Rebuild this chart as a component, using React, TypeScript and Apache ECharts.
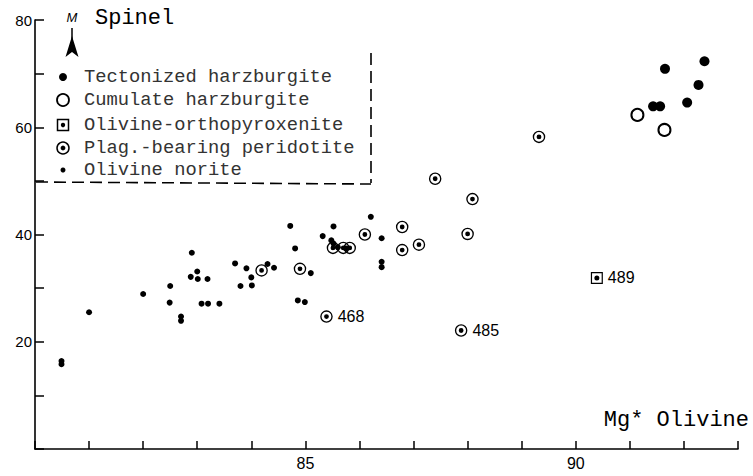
import React, { useEffect, useRef } from "react";
import * as echarts from "echarts";

// Mg* olivine (x) vs Mg* spinel (y)
const tectonizedHarzburgite: [number, number][] = [
  [91.65, 70.9], [92.38, 72.3], [92.27, 67.9], [92.06, 64.6], [91.43, 63.9], [91.56, 63.9],
];
const cumulateHarzburgite: [number, number][] = [
  [91.14, 62.3], [91.64, 59.5],
];
// [x, y, sample id]
const olivineOrthopyroxenite: [number, number, string][] = [
  [90.39, 31.9, "489"],
];
const plagBearingPeridotite: [number, number, string][] = [
  [84.19, 33.3, ""], [84.9, 33.6, ""], [85.39, 24.7, "468"], [85.51, 37.5, ""],
  [85.7, 37.5, ""], [85.82, 37.5, ""], [86.1, 40.0, ""], [86.79, 41.4, ""],
  [86.79, 37.1, ""], [87.1, 38.1, ""], [87.4, 50.4, ""], [88.09, 46.6, ""],
  [88.0, 40.1, ""], [87.88, 22.1, "485"], [89.32, 58.2, ""],
];
const olivineNorite: [number, number][] = [
  [80.49, 16.4], [80.49, 15.8], [81.0, 25.5], [82.0, 28.9], [82.5, 30.4], [82.49, 27.3],
  [82.7, 24.7], [82.7, 23.9], [82.9, 36.6], [82.88, 32.1], [83.0, 33.1], [83.01, 31.7],
  [83.08, 27.1], [83.2, 27.1], [83.19, 31.7], [83.41, 27.1], [83.7, 34.6], [83.8, 30.4],
  [83.91, 33.7], [84.0, 32.0], [84.01, 30.5], [84.3, 34.5], [84.42, 33.8], [84.72, 41.6],
  [84.81, 37.4], [84.86, 27.7], [84.99, 27.4], [85.1, 32.8], [85.32, 39.7], [85.52, 41.5],
  [85.48, 38.9], [85.52, 38.3], [85.6, 37.6], [85.75, 37.4], [86.21, 43.3], [86.41, 39.3],
  [86.41, 34.9], [86.41, 33.9],
];

const xLabels = [85, 90];
const yLabels = [20, 40, 60, 80];
const legendNames = [
  "Tectonized harzburgite",
  "Cumulate harzburgite",
  "Olivine-orthopyroxenite",
  "Plag.-bearing peridotite",
  "Olivine norite",
];

const RING =
  "path://M0,13A13,13 0 1,1 26,13A13,13 0 1,1 0,13Z M2.8,13A10.2,10.2 0 1,0 23.2,13A10.2,10.2 0 1,0 2.8,13Z M8,13A5,5 0 1,1 18,13A5,5 0 1,1 8,13Z";
const SQUARE =
  "path://M0,0L24,0L24,24L0,24Z M2.4,2.4L2.4,21.6L21.6,21.6L21.6,2.4Z M7,12A5,5 0 1,1 17,12A5,5 0 1,1 7,12Z";

const MONO = '"Liberation Mono", "DejaVu Sans Mono", monospace';
const SANS = '"Liberation Sans", Arial, sans-serif';

export default function App() {
  const ref = useRef<HTMLDivElement>(null);

  useEffect(() => {
    if (!ref.current) return;
    const chart = echarts.init(ref.current, undefined, { renderer: "svg" });

    const labelStyle = {
      position: "right" as const,
      distance: 5,
      fontSize: 16,
      fontFamily: SANS,
      color: "#000",
    };
    const withIds = (arr: [number, number, string][]) =>
      arr.map(([x, y, id]) => ({
        value: [x, y],
        label: { show: !!id, formatter: id, ...labelStyle },
      }));

    const rowsY = [77, 100, 125, 148, 170];
    const mx = 63;
    const legendGraphics: any[] = [
      { type: "circle", shape: { cx: mx, cy: rowsY[0], r: 4 }, style: { fill: "#000" } },
      { type: "circle", shape: { cx: mx, cy: rowsY[1], r: 6 }, style: { fill: "#fff", stroke: "#000", lineWidth: 1.8 } },
      { type: "rect", shape: { x: mx - 5.5, y: rowsY[2] - 5.5, width: 11, height: 11 }, style: { fill: "#fff", stroke: "#000", lineWidth: 1.5 } },
      { type: "circle", shape: { cx: mx, cy: rowsY[2], r: 2.2 }, style: { fill: "#000" } },
      { type: "circle", shape: { cx: mx, cy: rowsY[3], r: 6 }, style: { fill: "#fff", stroke: "#000", lineWidth: 1.5 } },
      { type: "circle", shape: { cx: mx, cy: rowsY[3], r: 2.4 }, style: { fill: "#000" } },
      { type: "circle", shape: { cx: mx, cy: rowsY[4], r: 2.5 }, style: { fill: "#000" } },
      ...legendNames.map((name, i) => ({
        type: "text",
        style: {
          text: name,
          x: 84,
          y: rowsY[i],
          fill: "#333",
          fontSize: 18.8,
          fontFamily: MONO,
          verticalAlign: "middle",
        },
      })),
      {
        type: "line",
        shape: { x1: 371, y1: 53, x2: 371, y2: 183 },
        style: { stroke: "#000", lineWidth: 1.6, lineDash: [12, 6] },
      },
      {
        type: "line",
        shape: { x1: 36, y1: 182, x2: 371, y2: 184 },
        style: { stroke: "#000", lineWidth: 1.6, lineDash: [12, 6] },
      },
      // axis title (y)
      { type: "line", shape: { x1: 72, y1: 28, x2: 72, y2: 44 }, style: { stroke: "#000", lineWidth: 1.5 } },
      {
        type: "polygon",
        shape: { points: [[72, 36], [78.5, 57], [72, 52], [65.5, 57]] },
        style: { fill: "#000" },
      },
      {
        type: "text",
        style: { text: "M", x: 72, y: 17, fill: "#000", fontSize: 13, fontStyle: "italic", fontFamily: SANS, align: "center", verticalAlign: "middle" },
      },
      {
        type: "text",
        style: { text: "Spinel", x: 95, y: 18, fill: "#000", fontSize: 22, fontFamily: MONO, verticalAlign: "middle" },
      },
      // axis title (x)
      {
        type: "text",
        style: { text: "Mg* Olivine", x: 749, y: 420, fill: "#000", fontSize: 22, fontFamily: MONO, align: "right", verticalAlign: "middle" },
      },
    ];

    chart.setOption({
      animation: false,
      backgroundColor: "#fff",
      grid: { left: 35, right: 15, top: 20, bottom: 27, containLabel: false },
      xAxis: {
        type: "value",
        min: 80,
        max: 93,
        interval: 1,
        splitLine: { show: false },
        axisLine: { show: true, lineStyle: { color: "#000", width: 1.6 } },
        axisTick: { show: true, inside: true, length: 8, lineStyle: { color: "#000", width: 1.5 } },
        axisLabel: {
          margin: 6,
          fontSize: 16,
          fontFamily: SANS,
          color: "#000",
          formatter: (v: number) => (xLabels.includes(v) ? String(v) : ""),
        },
      },
      yAxis: {
        type: "value",
        min: 0,
        max: 80,
        interval: 10,
        splitLine: { show: false },
        axisLine: { show: true, lineStyle: { color: "#000", width: 1.6 } },
        axisTick: { show: true, inside: true, length: 9, lineStyle: { color: "#000", width: 1.5 } },
        axisLabel: {
          margin: 3,
          fontSize: 15,
          fontFamily: SANS,
          color: "#000",
          formatter: (v: number) => (yLabels.includes(v) ? String(v) : ""),
        },
      },
      graphic: legendGraphics,
      series: [
        {
          name: legendNames[4],
          type: "scatter",
          data: olivineNorite,
          symbol: "circle",
          symbolSize: 6,
          itemStyle: { color: "#000", opacity: 1 },
        },
        {
          name: legendNames[3],
          type: "scatter",
          data: withIds(plagBearingPeridotite),
          symbol: RING,
          symbolSize: 12.5,
          itemStyle: { color: "#000", opacity: 1 },
        },
        {
          name: legendNames[2],
          type: "scatter",
          data: withIds(olivineOrthopyroxenite),
          symbol: SQUARE,
          symbolSize: 12,
          itemStyle: { color: "#000", opacity: 1 },
        },
        {
          name: legendNames[1],
          type: "scatter",
          data: cumulateHarzburgite,
          symbol: "circle",
          symbolSize: 12,
          itemStyle: { color: "#fff", borderColor: "#000", borderWidth: 2, opacity: 1 },
        },
        {
          name: legendNames[0],
          type: "scatter",
          data: tectonizedHarzburgite,
          symbol: "circle",
          symbolSize: 10,
          itemStyle: { color: "#000", opacity: 1 },
        },
      ],
    });

    return () => chart.dispose();
  }, []);

  return (
    <div
      ref={ref}
      style={{ position: "fixed", left: 0, top: 0, width: 753, height: 476, background: "#fff" }}
    />
  );
}
